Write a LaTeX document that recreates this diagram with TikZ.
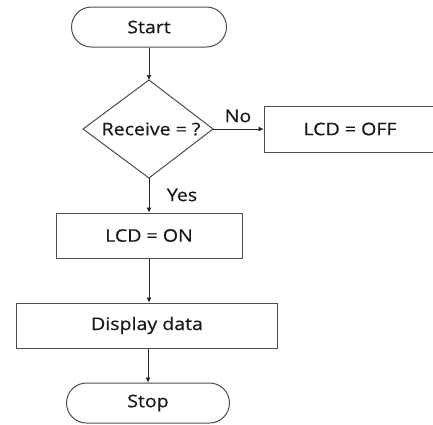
\documentclass[tikz,border=0pt]{standalone}
\usepackage{fontspec}
\setmainfont{Open Sans}[FakeBold=0.6]
\usetikzlibrary{shapes.misc,arrows.meta}
\newcommand\sx[1]{\scalebox{1.13}[1]{#1}}
\begin{document}
\begin{tikzpicture}[x=1pt,y=1pt,
  outline/.style={draw=black!70, line width=1pt},
  box/.style={outline, inner sep=0pt, font=\fontsize{17.3}{20}\selectfont, text=black!90},
  term/.style={box, rounded rectangle},
  arr/.style={draw=black!85, line width=0.6pt, -{Latex[length=5pt,width=5pt]}},
  lbl/.style={font=\fontsize{17.3}{20}\selectfont, text=black!90, inner sep=0pt}]
\useasboundingbox (0,0) rectangle (433,-424);
\node[term, minimum width=155pt, minimum height=40pt] (start) at (149,-27) {\sx{Start}};
\coordinate (dt) at (149,-80);
\coordinate (dr) at (213,-129);
\coordinate (db) at (149,-178);
\coordinate (dl) at (83,-129);
\draw[outline] (dt) -- (dr) -- (db) -- (dl) -- cycle;
\node[lbl] (dec) at (151,-129) {\sx{Receive = ?}};
\node[box, minimum width=172pt, minimum height=46pt] (lcdoff) at (350,-129) {\sx{LCD = OFF}};
\node[box, minimum width=186pt, minimum height=45pt] (lcdon) at (149,-235.5) {\sx{LCD = ON}};
\node[box, minimum width=261pt, minimum height=45pt] (disp) at (147,-325.5) {\sx{Display data}};
\node[term, minimum width=163pt, minimum height=40pt] (stop) at (148,-403) {\sx{Stop}};
\node[lbl] (no) at (238,-116) {\sx{No}};
\node[lbl] (yes) at (182,-195) {\sx{Yes}};
\draw[arr] (start.south) -- (dt);
\draw[arr] (dr) -- (lcdoff.west);
\draw[arr] (db) -- (db |- lcdon.north);
\draw[arr] (lcdon.south -| db) -- (db |- disp.north);
\draw[arr] (disp.south -| stop.north) -- (stop.north);
\end{tikzpicture}
\end{document}
